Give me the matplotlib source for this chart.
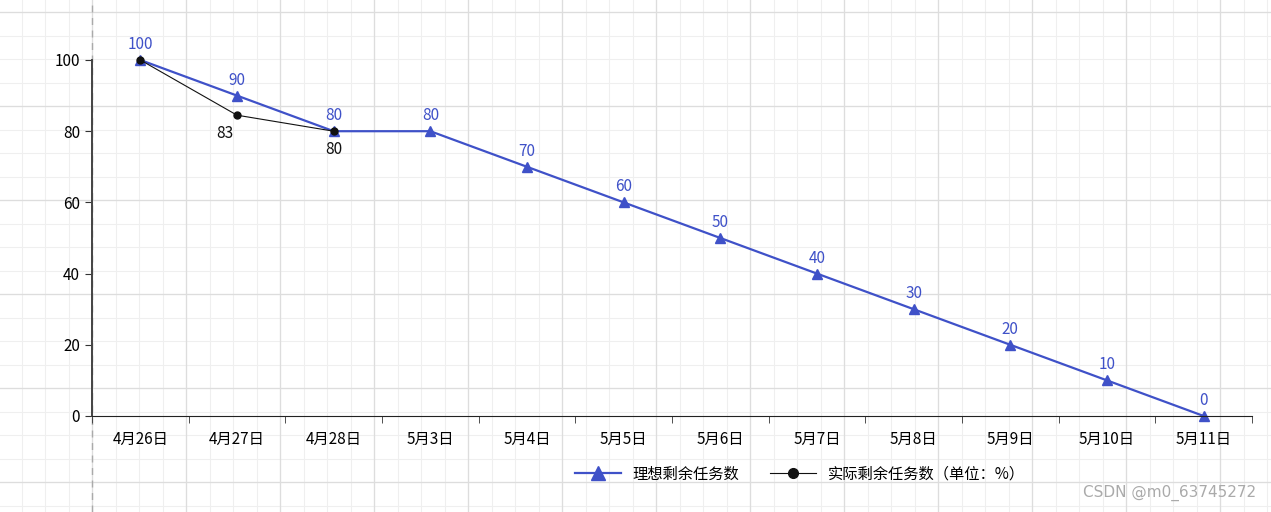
import matplotlib.pyplot as plt
import numpy as np

plt.rcParams['font.family'] = ['Noto Sans CJK SC', 'DejaVu Sans']

dates = ["4月26日", "4月27日", "4月28日", "5月3日", "5月4日", "5月5日", "5月6日",
         "5月7日", "5月8日", "5月9日", "5月10日", "5月11日"]
ideal = [100, 90, 80, 80, 70, 60, 50, 40, 30, 20, 10, 0]
actual = [100, 84.5, 80]
actual_labels = ["", "83", "80"]

W, H = 1271, 512
fig = plt.figure(figsize=(W / 100, H / 100), dpi=100)

# background paper grid
bg = fig.add_axes([0, 0, 1, 1], zorder=0)
bg.set_xlim(0, W)
bg.set_ylim(H, 0)
bg.axis("off")
for x in np.arange(92 - 94, W, 23.5):
    bg.axvline(x, color="#efefef", lw=0.8)
for y in np.arange(12, H, 23.5):
    bg.axhline(y, color="#efefef", lw=0.8)
for x in np.arange(92 - 94, W, 94):
    bg.axvline(x, color="#dddddd", lw=0.9)
for y in np.arange(12, H, 94):
    bg.axhline(y, color="#dddddd", lw=0.9)
bg.axvline(92, color="#aaaaaa", lw=1, ls=(0, (5, 4)))

ax = fig.add_axes([92 / W, 96 / H, 1160 / W, 356 / H], zorder=1)
ax.patch.set_alpha(0)
x = np.arange(len(dates))
blue = "#3f51c8"
ax.plot(x, ideal, color=blue, lw=1.6, marker="^", ms=7, label="理想剩余任务数",
        clip_on=False, zorder=2)
ax.plot(x[:len(actual)], actual, color="#111111", lw=0.8, marker="o", ms=5,
        label="实际剩余任务数（单位：%）", clip_on=False, zorder=3)
for xi, v in zip(x, ideal):
    ax.annotate(str(v), (xi, v), xytext=(0, 5), textcoords="offset points",
                ha="center", va="bottom", color=blue, fontsize=11)
for xi, v, t in zip(x, actual, actual_labels):
    if t:
        ax.annotate(t, (xi, v), xytext=(-9 if xi == 1 else 0, -7), textcoords="offset points",
                    ha="center", va="top", color="#111111", fontsize=11)

ax.set_xlim(-0.5, len(dates) - 0.5)
ax.set_ylim(0, 100)
ax.set_yticks([0, 20, 40, 60, 80, 100])
ax.set_xticks(x)
ax.set_xticklabels(dates, fontsize=11)
ax.set_xticks(np.arange(-0.5, len(dates), 1), minor=True)
ax.tick_params(axis="x", which="major", length=0, pad=11)
ax.tick_params(axis="x", which="minor", length=5, color="#333333")
ax.tick_params(axis="y", labelsize=11, length=5, color="#333333")
for s in ["top", "right"]:
    ax.spines[s].set_visible(False)
ax.spines["left"].set_color("#444444")
ax.spines["left"].set_linewidth(1.4)
ax.spines["bottom"].set_color("#222222")

fig.legend(loc="center", bbox_to_anchor=(800 / W, 1 - 474 / H), ncol=2, frameon=False,
           fontsize=11, handlelength=3, columnspacing=2, markerscale=1.4)
fig.text(1256 / W, 1 - 493 / H, "CSDN @m0_63745272", ha="right", va="center",
         color="#aaaaaa", fontsize=11, family=["DejaVu Sans"])

fig.savefig("out.png", dpi=100)
